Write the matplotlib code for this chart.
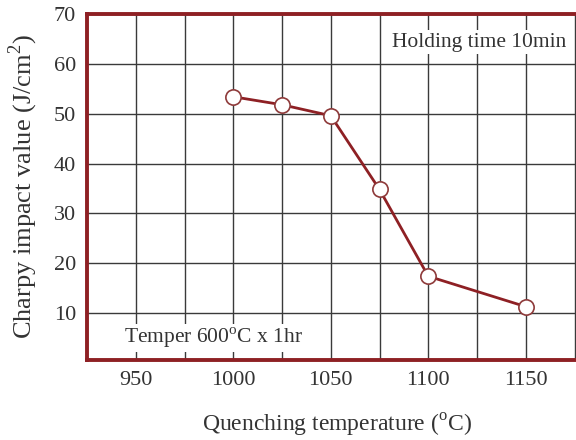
import matplotlib.pyplot as plt

# Quenching temperature (C) vs Charpy impact value (J/cm^2)
temp = [1000, 1025, 1050, 1075, 1100, 1150]
charpy = [53.4, 51.8, 49.6, 34.8, 17.4, 11.3]

xticks = [950, 1000, 1050, 1100, 1150]
yticks = [10, 20, 30, 40, 50, 60, 70]

red = '#8e2024'
plt.rcParams['font.family'] = ['Liberation Serif', 'DejaVu Serif']
plt.rcParams['mathtext.fontset'] = 'custom'
plt.rcParams['mathtext.rm'] = 'Liberation Serif'

fig = plt.figure(figsize=(5.76, 4.40), dpi=100)
ax = fig.add_axes([87/576, 1 - 360/440, 500/576, 346/440])

ax.set_xlim(925, 1181.4)
ax.set_ylim(0.6, 70)

# grid every 25 deg / 10 J
grid_x = list(range(950, 1200, 25))
ax.set_xticks(grid_x)
ax.grid(True, color='#3a3a3a', linewidth=1.0)
ax.set_xticklabels([str(t) if t in xticks else '' for t in grid_x])
ax.set_yticks(yticks)
ax.tick_params(length=0, labelsize=16, pad=8, labelcolor='#333333')
ax.set_axisbelow(True)

for s in ax.spines.values():
    s.set_color(red)
    s.set_linewidth(2.8)

ax.plot(temp, charpy, color=red, linewidth=2, marker='o', markersize=11,
        markerfacecolor='white', markeredgecolor='#8e3a3a', markeredgewidth=1.2,
        zorder=5)

fig.text(566/576, 1 - 42/440, 'Holding time 10min', ha='right', va='center',
         fontsize=15.5, color='#333333',
         bbox=dict(facecolor='white', edgecolor='none', pad=1.5))
fig.text(124/576, 1 - 338/440, r'Temper 600$^{\rm o}$C x 1hr', ha='left', va='center',
         fontsize=15.5, color='#333333',
         bbox=dict(facecolor='white', edgecolor='none', pad=1.5))

ax.set_xlabel(r'Quenching temperature ($^{\rm o}$C)', fontsize=17, labelpad=16,
              color='#333333')
ax.set_ylabel('Charpy impact value (J/cm$^2$)', fontsize=19, labelpad=10,
              color='#333333')

fig.savefig('out.png', dpi=100)
